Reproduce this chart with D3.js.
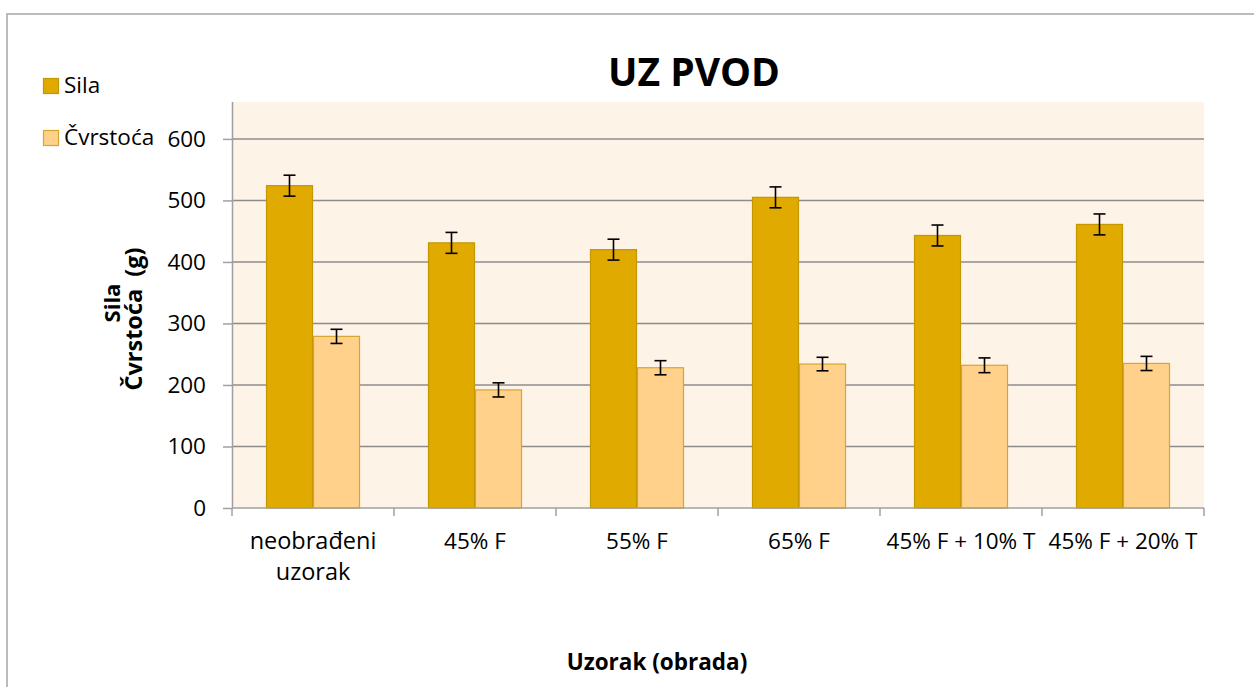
<!DOCTYPE html>
<html>
<head>
<meta charset="utf-8">
<script src="https://cdnjs.cloudflare.com/ajax/libs/d3/7.8.5/d3.min.js"></script>
<style>
  html, body { margin: 0; padding: 0; background: #fff; }
  svg text { font-family: "Open Sans", "Liberation Sans", sans-serif; fill: #000; }
</style>
</head>
<body>
<div id="chart"></div>
<script>
// data
var categories = ["neobrađeni uzorak", "45% F", "55% F", "65% F", "45% F + 10% T", "45% F + 20% T"];
var seriesNames = ["Sila", "Čvrstoća"];
var sila = [524, 431, 420, 505, 443, 461];
var silaErr = [17, 17, 17, 17, 17, 17];
var cvrstoca = [279, 192, 228, 234, 232, 235];
var cvrstocaErr = [11.5, 11.5, 11.5, 11, 12, 11.5];
var yTicks = [0, 100, 200, 300, 400, 500, 600];

var W = 1254, H = 687;
var plot = { left: 232, right: 1204, top: 102, bottom: 508 };
var colors = { "Sila": "#e0aa00", "Čvrstoća": "#ffd18a" };
var strokes = { "Sila": "#c49600", "Čvrstoća": "#d9a52a" };

var rows = categories.map(function(c, i) {
    return {
        cat: c,
        values: [
            { name: "Sila", v: sila[i], e: silaErr[i] },
            { name: "Čvrstoća", v: cvrstoca[i], e: cvrstocaErr[i] }
        ]
    };
});

var svg = d3.select("#chart").append("svg")
    .attr("width", W)
    .attr("height", H);

// chart frame (only left/top visible in the crop)
svg.append("rect")
    .attr("x", 7).attr("y", 14)
    .attr("width", W + 40).attr("height", H + 40)
    .attr("fill", "#fff")
    .attr("stroke", "#a6a6a6")
    .attr("stroke-width", 1.5);

// scales
var x = d3.scaleBand().domain(categories).range([plot.left, plot.right]).padding(0);
var xs = d3.scaleBand().domain(seriesNames).range([34, x.bandwidth() - 34]).padding(0);
var y = d3.scaleLinear().domain([0, 660]).range([plot.bottom, plot.top]);

// plot background
svg.append("rect")
    .attr("x", plot.left).attr("y", plot.top)
    .attr("width", plot.right - plot.left).attr("height", plot.bottom - plot.top)
    .attr("fill", "#fef3e7");

// gridlines
svg.append("g")
    .selectAll("line")
    .data(yTicks.filter(function(d) { return d > 0; }))
    .enter().append("line")
    .attr("x1", plot.left).attr("x2", plot.right)
    .attr("y1", function(d) { return y(d); })
    .attr("y2", function(d) { return y(d); })
    .attr("stroke", "#8c8c8c")
    .attr("stroke-width", 1.5);

// bars
var groups = svg.append("g").selectAll("g")
    .data(rows)
    .enter().append("g")
    .attr("transform", function(d) { return "translate(" + x(d.cat) + ",0)"; });

groups.selectAll("rect")
    .data(function(d) { return d.values; })
    .enter().append("rect")
    .attr("x", function(d) { return xs(d.name) + 0.5; })
    .attr("y", function(d) { return y(d.v); })
    .attr("width", xs.bandwidth() - 1)
    .attr("height", function(d) { return y(0) - y(d.v); })
    .attr("fill", function(d) { return colors[d.name]; })
    .attr("stroke", function(d) { return strokes[d.name]; })
    .attr("stroke-width", 1.2);

// error bars
var err = groups.selectAll("g.err")
    .data(function(d) { return d.values; })
    .enter().append("g")
    .attr("class", "err")
    .attr("stroke", "#000")
    .attr("stroke-width", 1.6);
err.append("line")
    .attr("x1", function(d) { return xs(d.name) + xs.bandwidth() / 2; })
    .attr("x2", function(d) { return xs(d.name) + xs.bandwidth() / 2; })
    .attr("y1", function(d) { return y(d.v + d.e); })
    .attr("y2", function(d) { return y(d.v - d.e); });
err.selectAll("line.cap")
    .data(function(d) { return [d.v + d.e, d.v - d.e].map(function(v) { return { name: d.name, v: v }; }); })
    .enter().append("line")
    .attr("class", "cap")
    .attr("x1", function(d) { return xs(d.name) + xs.bandwidth() / 2 - 6; })
    .attr("x2", function(d) { return xs(d.name) + xs.bandwidth() / 2 + 6; })
    .attr("y1", function(d) { return y(d.v); })
    .attr("y2", function(d) { return y(d.v); });

// y axis
var yAxis = svg.append("g")
    .attr("transform", "translate(" + plot.left + ",0)")
    .call(d3.axisLeft(y).tickValues(yTicks).tickSize(9).tickPadding(17));
yAxis.select(".domain").attr("stroke", "#a0a0a0").attr("stroke-width", 1.5).attr("d", "M0.5," + plot.top + "V" + plot.bottom);
yAxis.selectAll(".tick line").attr("stroke", "#a0a0a0").attr("stroke-width", 1.5);
yAxis.selectAll(".tick text")
    .style("font-family", "Open Sans")
    .style("font-size", "22.5px")
    .attr("fill", "#000");

// x axis: ticks at category boundaries
var xAxis = svg.append("g")
    .attr("transform", "translate(0," + plot.bottom + ")");
xAxis.append("line")
    .attr("x1", plot.left).attr("x2", plot.right)
    .attr("stroke", "#a0a0a0").attr("stroke-width", 1.5);
xAxis.selectAll("line.tick")
    .data(categories.concat([null]))
    .enter().append("line")
    .attr("class", "tick")
    .attr("x1", function(d) { return d ? x(d) : plot.right; })
    .attr("x2", function(d) { return d ? x(d) : plot.right; })
    .attr("y1", 0).attr("y2", 8)
    .attr("stroke", "#a0a0a0").attr("stroke-width", 1.5);

var catLabels = xAxis.selectAll("text.cat")
    .data(categories)
    .enter().append("text")
    .attr("class", "cat")
    .attr("text-anchor", "middle")
    .style("font-size", "22.5px")
    .attr("transform", function(d) { return "translate(" + (x(d) + x.bandwidth() / 2) + ",41)"; });

// wrap long category names onto two lines
catLabels.each(function(d) {
    var t = d3.select(this);
    t.text(d);
    if (this.getComputedTextLength() > x.bandwidth() - 4) {
        t.text(null);
        var words = d.split(" ");
        t.append("tspan").attr("x", 0).attr("dy", 0).style("font-size", "23.5px").text(words[0]);
        t.append("tspan").attr("x", 0).attr("dy", 31).style("font-size", "23.5px").text(words.slice(1).join(" "));
    }
});

// title
svg.append("text")
    .attr("x", 694).attr("y", 86)
    .attr("text-anchor", "middle")
    .style("font-size", "39px")
    .style("font-weight", "bold")
    .text("UZ PVOD");

// axis titles
svg.append("text")
    .attr("text-anchor", "middle")
    .attr("transform", "translate(120,303) rotate(-90)")
    .style("font-size", "22px")
    .style("font-weight", "bold")
    .text("Sila");
svg.append("text")
    .attr("text-anchor", "middle")
    .attr("transform", "translate(142,319) rotate(-90)")
    .style("font-size", "23.5px")
    .style("font-weight", "bold")
    .style("white-space", "pre")
    .text("Čvrstoća  (g)");

svg.append("text")
    .attr("x", 657).attr("y", 670)
    .attr("text-anchor", "middle")
    .style("font-size", "22.5px")
    .style("font-weight", "bold")
    .text("Uzorak (obrada)");

// legend
var legend = svg.append("g").selectAll("g")
    .data(seriesNames)
    .enter().append("g")
    .attr("transform", function(d, i) { return "translate(43," + (78 + i * 52) + ")"; });
legend.append("rect")
    .attr("x", 0.5).attr("y", 0.5)
    .attr("width", 15).attr("height", 15)
    .attr("fill", function(d) { return colors[d]; })
    .attr("stroke", function(d) { return strokes[d]; })
    .attr("stroke-width", 1.2);
legend.append("text")
    .attr("x", 21).attr("y", 14.5)
    .style("font-size", "22.5px")
    .text(function(d) { return d; });
</script>
</body>
</html>
